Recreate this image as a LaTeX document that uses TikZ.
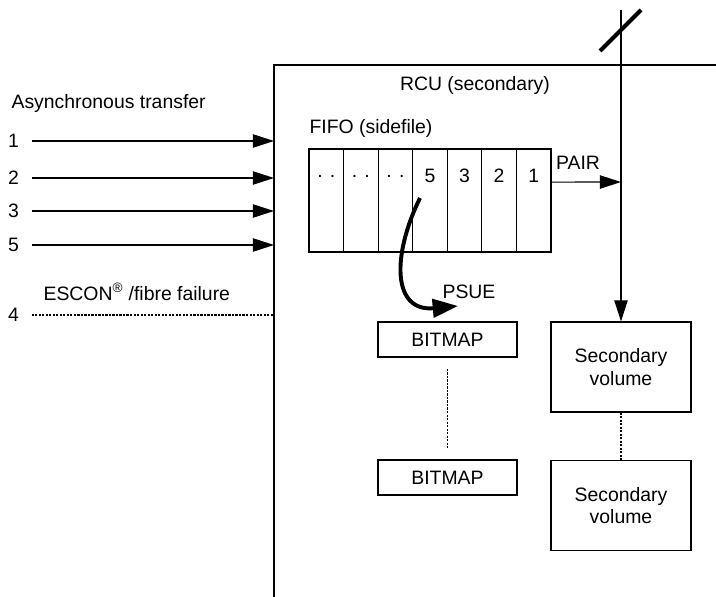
\documentclass[tikz,border=0pt]{standalone}
\usepackage{fontspec}
\setmainfont{Liberation Sans}
\usetikzlibrary{arrows.meta, positioning}

\tikzset{
    txt/.style={font=\fontsize{13.8}{16}\selectfont, inner sep=0pt},
    num/.style={txt, outer sep=9pt},
    arr/.style={-{Triangle[length=15pt, width=9.5pt]}},
    bigarr/.style={line width=2.8pt, -{Triangle[length=18pt, width=13pt]}},
    dots/.style={line width=1pt, dash pattern=on 1.6pt off 0.9pt},
    cell/.style={draw, minimum width=0.864cm, minimum height=2.575cm, inner sep=0pt},
    bitbox/.style={draw, txt, minimum width=3.475cm, minimum height=0.875cm},
    volbox/.style={draw, txt, align=center, minimum width=3.5cm, minimum height=2.25cm}
}

\begin{document}
\begin{tikzpicture}[x=0.025cm, y=-0.025cm, line width=0.8pt]
    \def\cw{34.57}      % FIFO cell width
    \def\rx{274}        % RCU left edge
    \def\vx{621}        % volume feed line
    \useasboundingbox (0,0) rectangle (716,597);
    % Draw the RCU box
    \draw (\rx,597) -- (\rx,65) -- (716,65);
    \node[txt] (rcu) at (475,85) {RCU (secondary)};
    % Draw the incoming transfers
    \node[txt, anchor=west] (async) at (11,103) {Asynchronous transfer};
    \foreach \lab/\y in {1/141, 2/178, 3/211, 5/245} {
        \node[num] (in\lab) at (13.5,\y) {\lab};
        \coordinate (rcu\lab) at (\rx,\y);
        \draw[arr] (in\lab) -- (rcu\lab);
    }
    \node[txt, anchor=west] (escon) at (43,292) {ESCON\textsuperscript{\textregistered} /fibre failure};
    \node[num] (in4) at (13.5,315) {4};
    \coordinate (rcu4) at (\rx,315);
    \draw[dots] (in4) -- (rcu4);
    % Draw the FIFO
    \node[txt, anchor=west] (fifo) at (309,128) {FIFO (sidefile)};
    \foreach \lab [count=\i] in {{. .},{. .},{. .},5,3,2,1} {
        \node[cell] (c\i) at ({309+(\i-0.5)*\cw},200.5) {};
        \node[txt] (t\i) at ({309+(\i-0.5)*\cw},176) {\lab};
    }
    % Draw the secondary volume feed
    \coordinate (feedTop) at (\vx,10);
    \coordinate (pairEnd) at (\vx,182);
    \draw[line width=2.8pt] (600,51) -- (641,10);
    \node[bitbox] (bm1) at (447.5,339.5) {BITMAP};
    \node[bitbox] (bm2) at (447.5,477.5) {BITMAP};
    \node[volbox] (sv1) at (\vx,367) {Secondary\\volume};
    \node[volbox] (sv2) at (\vx,505.5) {Secondary\\volume};
    \draw[arr] (feedTop) -- (sv1.north);
    \draw[arr] ([yshift=0.46cm]c7.east) -- (pairEnd);
    \node[txt] (pair) at (578,163) {PAIR};
    % Draw the suspend arrow
    \coordinate (psueFrom) at (420,198);
    \coordinate (psueTo) at (458,306);
    \draw[bigarr] (psueFrom) .. controls (392,255) and (392,312) .. (psueTo);
    \node[txt] (psue) at (469,292) {PSUE};
    % Draw the dotted links
    \draw[dots, shorten >=7pt, shorten <=8pt] (bm1.south) -- (bm2.north);
    \draw[dots] (sv1.south) -- (sv2.north);
\end{tikzpicture}
\end{document}
